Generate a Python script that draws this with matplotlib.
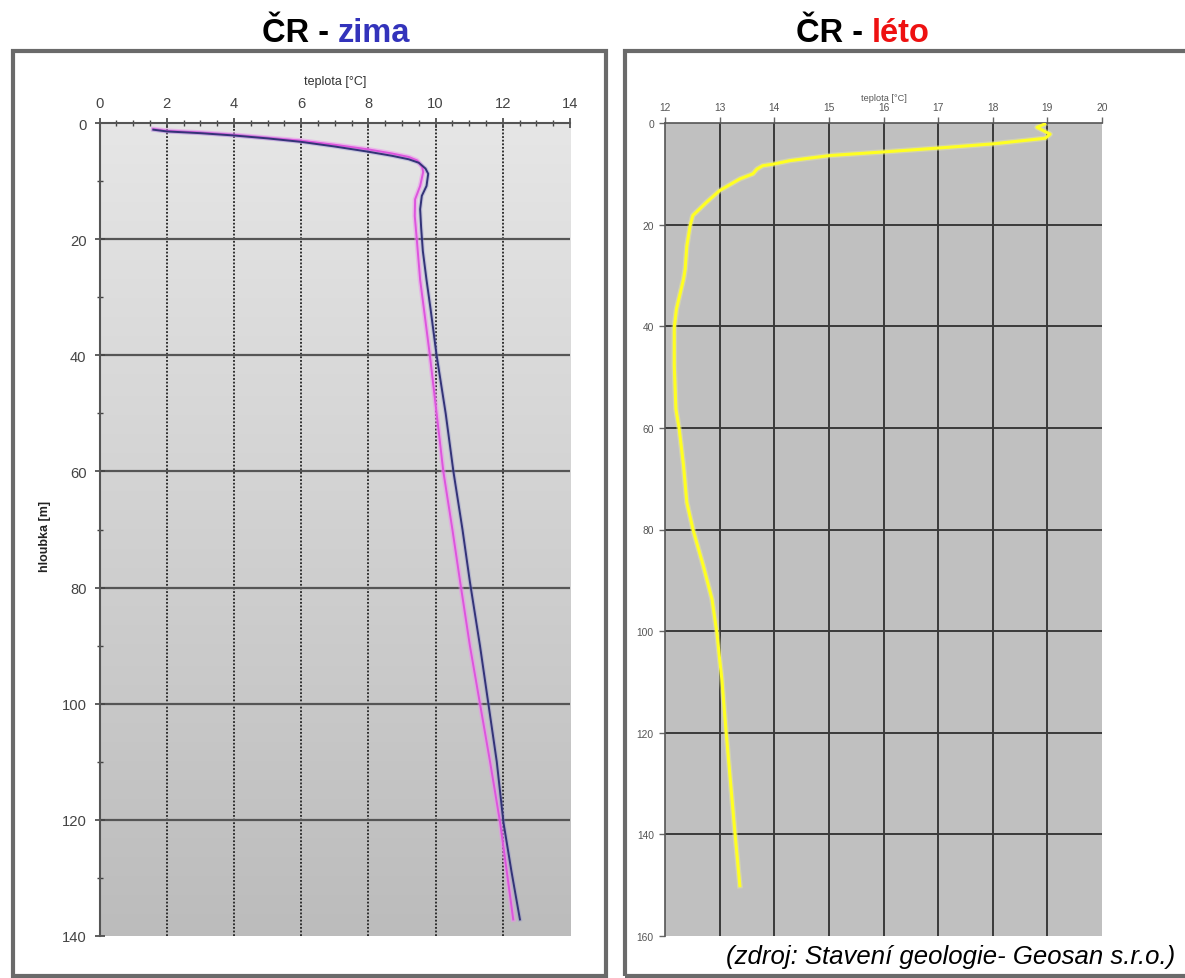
import numpy as np
import matplotlib
matplotlib.use('Agg')
import matplotlib.pyplot as plt
from matplotlib import font_manager as fm
from matplotlib.colors import LinearSegmentedColormap
from matplotlib.patches import Rectangle
from matplotlib.ticker import MultipleLocator

# zima - teplota [°C] vs. hloubka [m]
zima_modra_t = [1.6, 2.0, 3.0, 4.0, 5.0, 6.0, 7.0, 8.0, 8.7, 9.2, 9.5, 9.7, 9.78, 9.73,
                9.59, 9.54, 9.57, 9.62, 9.73, 9.85, 10.03, 10.3, 10.53, 10.8, 11.02,
                11.32, 11.57, 11.82, 12.02, 12.26, 12.51]
zima_modra_h = [1.1, 1.4, 1.7, 2.1, 2.6, 3.2, 4.0, 4.9, 5.6, 6.2, 6.8, 7.8, 8.7, 10.8,
                12.5, 14.8, 18.0, 22.0, 27.0, 32.0, 40.0, 50.0, 60.0, 70.0, 79.0, 90.0,
                100.0, 110.0, 120.5, 129.0, 137.2]
zima_ruzova_t = [1.6, 2.0, 3.0, 4.0, 5.0, 6.0, 7.0, 8.0, 8.7, 9.2, 9.45, 9.6, 9.63, 9.54,
                 9.39, 9.38, 9.44, 9.54, 9.63, 9.83, 10.03, 10.23, 10.5, 10.73, 11.02,
                 11.32, 11.62, 11.92, 12.12, 12.31]
zima_ruzova_h = [1.0, 1.3, 1.6, 2.0, 2.5, 3.0, 3.7, 4.5, 5.2, 5.8, 6.4, 7.5, 8.4, 10.8,
                 13.1, 16.0, 20.0, 27.0, 31.0, 40.0, 50.0, 60.0, 70.0, 79.0, 90.0,
                 100.0, 110.0, 120.5, 129.0, 137.2]

# léto
leto_t = [18.95, 18.81, 19.05, 18.96, 18.01, 17.04, 15.99, 15.02, 14.29, 13.98, 13.79,
          13.68, 13.61, 13.37, 13.0, 12.76, 12.51, 12.46, 12.40, 12.37, 12.34, 12.21,
          12.17, 12.17, 12.20, 12.26, 12.34, 12.40, 12.52, 12.70, 12.86, 12.95, 13.0,
          13.04, 13.12, 13.28, 13.37]
leto_h = [0.2, 0.85, 2.2, 3.0, 4.1, 4.9, 5.7, 6.4, 7.4, 8.1, 8.4, 9.1, 10.0, 11.0, 13.3,
          15.6, 18.2, 20.2, 24.2, 28.7, 30.7, 36.6, 40.2, 47.8, 56.3, 60.2, 67.5, 74.7,
          80.3, 87.1, 93.7, 100.3, 105.5, 109.4, 120.0, 139.6, 150.1]

names = {f.name for f in fm.fontManager.ttflist}
NARROW = 'Liberation Sans Narrow' if 'Liberation Sans Narrow' in names else 'Liberation Sans'
SANS = 'Liberation Sans'
k = 1.0 if NARROW == 'Liberation Sans Narrow' else 0.82

W, H = 1185, 979
fig = plt.figure(figsize=(W / 100, H / 100), dpi=100)
fig.patch.set_facecolor('white')

# ramecky
fig.patches.append(Rectangle((13 / W, 1 - 977 / H), 593 / W, 925 / H, transform=fig.transFigure,
                             fill=False, edgecolor='#6a6a6a', lw=3))
fig.patches.append(Rectangle((625 / W, 1 - 977 / H), 600 / W, 925 / H, transform=fig.transFigure,
                             fill=False, edgecolor='#6a6a6a', lw=3))

# tituly
fig.text(338 / W, 1 - 33 / H, 'ČR - ', ha='right', va='center', fontsize=23.5,
         fontweight='bold', family=SANS, color='black')
fig.text(338 / W, 1 - 33 / H, 'zima', ha='left', va='center', fontsize=23.5,
         fontweight='bold', family=SANS, color='#3333bb')
fig.text(872 / W, 1 - 33 / H, 'ČR - ', ha='right', va='center', fontsize=23.5,
         fontweight='bold', family=SANS, color='black')
fig.text(872 / W, 1 - 33 / H, 'léto', ha='left', va='center', fontsize=23.5,
         fontweight='bold', family=SANS, color='#ee1111')

# ---- zima ----
ax1 = fig.add_axes([99.6 / W, 1 - 936.7 / H, (570 - 99.6) / W, (936.7 - 124.3) / H])
grad = np.linspace(0, 1, 256).reshape(-1, 1)
ax1.imshow(grad, extent=[0, 14, 140, 0], aspect='auto',
           cmap=LinearSegmentedColormap.from_list('g', ['#e6e6e6', '#bcbcbc']), zorder=0)
ax1.set_xlim(0, 14)
ax1.set_ylim(140, 0)
for xv in range(2, 14, 2):
    ax1.axvline(xv, color='#222222', lw=1.3, ls=(0, (1, 1)), zorder=1)
for yv in range(20, 140, 20):
    ax1.axhline(yv, color='#555555', lw=1.6, zorder=1)
ax1.plot(zima_ruzova_t, zima_ruzova_h, color='#f08cf0', lw=3.5, alpha=0.5, zorder=2)
ax1.plot(zima_ruzova_t, zima_ruzova_h, color='#dd55dd', lw=1.4, zorder=3)
ax1.plot(zima_modra_t, zima_modra_h, color='#8888cc', lw=3.0, alpha=0.35, zorder=2)
ax1.plot(zima_modra_t, zima_modra_h, color='#333377', lw=1.4, zorder=4)
ax1.xaxis.tick_top()
ax1.xaxis.set_label_position('top')
ax1.xaxis.set_major_locator(MultipleLocator(2))
ax1.xaxis.set_minor_locator(MultipleLocator(0.5))
ax1.yaxis.set_major_locator(MultipleLocator(20))
ax1.yaxis.set_minor_locator(MultipleLocator(10))
ax1.tick_params(which='major', direction='inout', length=7, width=1.2, color='#444444',
                labelsize=13 * k, labelcolor='#444444', pad=6)
ax1.tick_params(which='minor', direction='inout', length=4, width=1.0, color='#444444')
for lab in ax1.get_xticklabels() + ax1.get_yticklabels():
    lab.set_family(NARROW)
for s in ['right', 'bottom']:
    ax1.spines[s].set_visible(False)
for s in ['top', 'left']:
    ax1.spines[s].set_color('#555555')
    ax1.spines[s].set_linewidth(1.5)
ax1.set_xlabel('teplota [°C]', family=NARROW, fontsize=11 * k, color='#333333', labelpad=9)
fig.text(45 / W, 1 - 536 / H, 'hloubka [m]', rotation=90, ha='center', va='center',
         family=NARROW, fontweight='bold', fontsize=11 * k, color='#222222')

# ---- leto ----
ax2 = fig.add_axes([665 / W, 1 - 937 / H, (1102 - 665) / W, (937 - 124) / H])
ax2.set_facecolor('#c0c0c0')
ax2.set_xlim(12, 20)
ax2.set_ylim(160, 0)
for xv in range(13, 20):
    ax2.axvline(xv, color='#3a3a3a', lw=1.4, zorder=1)
for yv in range(20, 160, 20):
    ax2.axhline(yv, color='#3a3a3a', lw=1.4, zorder=1)
ax2.plot(leto_t, leto_h, color='#eeee99', lw=4, alpha=0.4, zorder=2)
ax2.plot(leto_t, leto_h, color='#ffff22', lw=2.2, zorder=3)
ax2.xaxis.tick_top()
ax2.xaxis.set_label_position('top')
ax2.xaxis.set_major_locator(MultipleLocator(1))
ax2.yaxis.set_major_locator(MultipleLocator(20))
ax2.tick_params(which='major', direction='out', length=4, width=1.0, color='#666666',
                labelsize=9 * k, labelcolor='#555555', pad=4)
for lab in ax2.get_xticklabels() + ax2.get_yticklabels():
    lab.set_family(NARROW)
for s in ['right', 'bottom']:
    ax2.spines[s].set_visible(False)
for s in ['top', 'left']:
    ax2.spines[s].set_color('#555555')
    ax2.spines[s].set_linewidth(1.2)
ax2.set_xlabel('teplota [°C]', family=NARROW, fontsize=8 * k, color='#555555', labelpad=1)

fig.text(1175 / W, 1 - 957 / H, '(zdroj: Stavení geologie- Geosan s.r.o.)', ha='right',
         va='center', family=SANS, style='italic', fontsize=18.5, color='black')

fig.savefig('out.png', dpi=100)
